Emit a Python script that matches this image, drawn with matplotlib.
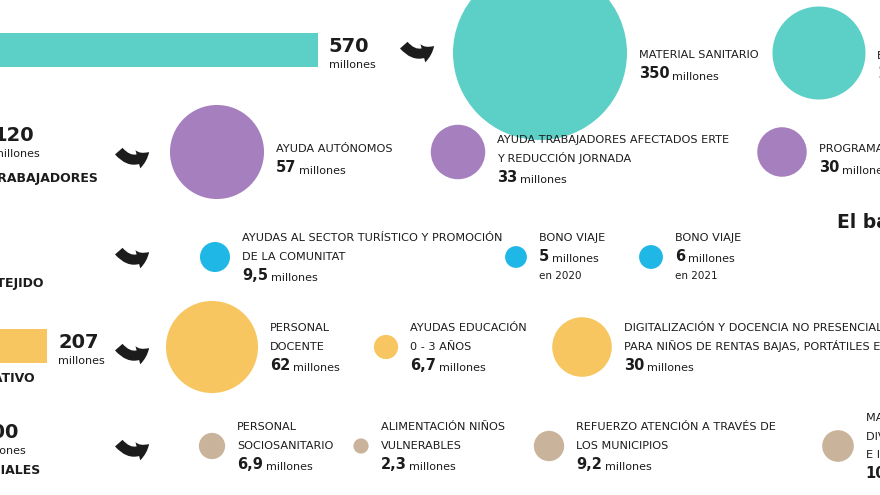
import matplotlib.pyplot as plt
from matplotlib.patches import Circle, FancyArrowPatch

plt.rcParams['font.family'] = ['DejaVu Sans']

# colours of the five blocks
TEAL = "#5ccfc7"
PURPLE = "#a67fbf"
BLUE = "#1fb8e6"
YELLOW = "#f8c661"
BEIGE = "#c9b49b"
INK = "#1c1c1c"

# totals per block (millones) and block names
categories = ["SANIDAD", "AYUDAS A TRABAJADORES", "APOYO AL TEJIDO",
              "SISTEMA EDUCATIVO", "SERVICIOS SOCIALES"]
totals = [570, 120, 20.5, 207, 100]
show_total = [True, True, False, True, True]

# items inside each block
teal_names = ["MATERIAL SANITARIO", "EQUIPOS DE PROTECCIÓN"]
teal_vals = [350, 100]

purple_names = ["AYUDA AUTÓNOMOS",
                "AYUDA TRABAJADORES AFECTADOS ERTE\nY REDUCCIÓN JORNADA",
                "PROGRAMAS DE EMPLEO"]
purple_vals = [57, 33, 30]

blue_names = ["AYUDAS AL SECTOR TURÍSTICO Y PROMOCIÓN\nDE LA COMUNITAT",
              "BONO VIAJE", "BONO VIAJE"]
blue_vals = [9.5, 5, 6]
blue_notes = ["", "en 2020", "en 2021"]

yellow_names = ["PERSONAL\nDOCENTE", "AYUDAS EDUCACIÓN\n0 - 3 AÑOS",
                "DIGITALIZACIÓN Y DOCENCIA NO PRESENCIAL CON\nPARA NIÑOS DE RENTAS BAJAS, PORTÁTILES ETC."]
yellow_vals = [62, 6.7, 30]

beige_names = ["PERSONAL\nSOCIOSANITARIO", "ALIMENTACIÓN NIÑOS\nVULNERABLES",
               "REFUERZO ATENCIÓN A TRAVÉS DE\nLOS MUNICIPIOS",
               "MAYORES, PERSONAS CON\nDIVERSIDAD FUNCIONAL\nE INFANCIA"]
beige_vals = [6.9, 2.3, 9.2, 10]

colors = [TEAL, PURPLE, BLUE, YELLOW, BEIGE]
all_names = [teal_names, purple_names, blue_names, yellow_names, beige_names]
all_vals = [teal_vals, purple_vals, blue_vals, yellow_vals, beige_vals]
all_notes = [None, None, blue_notes, None, None]

# layout (pixels, figure is 880 x 495)
row_y = [53, 152, 257, 347, 446]
label_cy = [64, 158, 256, 346, 445]
bar_y = [50, 139, 250, 346, 436]
cat_y = [85, 178, 283, 378, 470]
cat_right = [-5, 98, 43, 35, 40]
arrow_x = [402, 117, 117, 117, 117]
arrow_y = [50, 156, 256, 352, 448]
circle_x = [[540, 819], [217, 458, 782], [215, 516, 651],
            [212, 386, 582], [212, 361, 549, 838]]
# the bubbles are not scaled the same way in every block
size_k = [4.65, 0.825, 4.87, 3.87, 5.0]
size_q = [0.5, 1.0, 0.5, 0.6, 0.5]
bar_x0 = -107
bar_k = 0.745
line_h = 19


def fmt(v):
    return ("%g" % v).replace(".", ",")


fig = plt.figure(figsize=(8.8, 4.95), dpi=100)
ax = fig.add_axes([0, 0, 1, 1])
ax.set_xlim(0, 880)
ax.set_ylim(495, 0)
ax.set_aspect('equal')
ax.axis('off')

# bars with the block totals
for i in range(5):
    w = totals[i] * bar_k
    ax.barh(bar_y[i], w, left=bar_x0, height=34, color=colors[i], linewidth=0)
    xl = bar_x0 + w + 11
    if show_total[i]:
        ax.text(xl, bar_y[i] + 2, fmt(totals[i]), fontsize=14, fontweight='bold',
                color=INK, va='baseline', ha='left')
        ax.text(xl, bar_y[i] + 18, "millones", fontsize=8, color=INK,
                va='baseline', ha='left')
    ax.text(cat_right[i], cat_y[i] + 4, categories[i], fontsize=9,
            fontweight='bold', color=INK, va='baseline', ha='right')

# curved arrows
for i in range(5):
    x, y = arrow_x[i], arrow_y[i]
    arr = FancyArrowPatch((x, y - 7), (x + 34, y - 6),
                          connectionstyle="arc3,rad=0.6",
                          arrowstyle="simple,head_length=0.6,head_width=0.85,tail_width=0.45",
                          mutation_scale=16, color=INK, lw=0)
    ax.add_patch(arr)

# bubbles and their labels
for i in range(5):
    for j, v in enumerate(all_vals[i]):
        cx = circle_x[i][j]
        r = size_k[i] * v ** size_q[i]
        ax.add_patch(Circle((cx, row_y[i]), r, color=colors[i], lw=0))
        lines = all_names[i][j].split("\n")
        note = all_notes[i][j] if all_notes[i] else ""
        n = len(lines) + 1 + (1 if note else 0)
        y0 = label_cy[i] - (n - 1) / 2 * line_h + 4
        xl = cx + r + 12
        for k, s in enumerate(lines):
            ax.text(xl, y0 + k * line_h, s, fontsize=8.1, color=INK,
                    va='baseline', ha='left')
        yv = y0 + len(lines) * line_h + 1
        t = ax.text(xl, yv, fmt(v), fontsize=10.5, fontweight='bold',
                    color=INK, va='baseline', ha='left')
        ax.annotate("millones", xy=(1, 0), xycoords=t, xytext=(2, 0),
                    textcoords='offset points', fontsize=8, color=INK,
                    va='bottom', ha='left')
        if note:
            ax.text(xl, yv + line_h - 1, note, fontsize=7.5, color=INK,
                    va='baseline', ha='left')

ax.text(837, 228, "El balance", fontsize=13.5, fontweight='bold', color=INK,
        va='baseline', ha='left')

fig.savefig("out.png", dpi=100)
